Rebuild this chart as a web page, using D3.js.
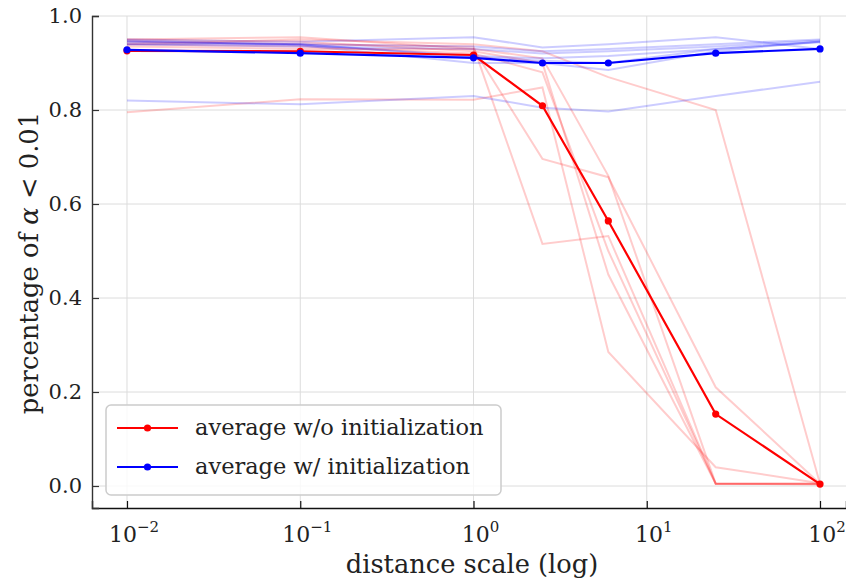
<!DOCTYPE html>
<html>
<head>
<meta charset="utf-8">
<script src="https://cdn.jsdelivr.net/npm/d3@7"></script>
<style>
  body { margin: 0; background: #fff; }
  svg text { font-family: "DejaVu Serif", "Liberation Serif", serif; fill: #222; }
</style>
</head>
<body>
<div id="chart"></div>
<script>
// x positions (distance scale)
const scales = [0.01, 0.1, 1, 2.5, 6, 25, 100]

// single runs without initialization
const runsNoInit = [
  [0.795, 0.823, 0.822, 0.848, 0.285, 0.04, 0.006],
  [0.95, 0.955, 0.93, 0.696, 0.657, 0.21, 0.005],
  [0.945, 0.94, 0.935, 0.515, 0.532, 0.005, 0.003],
  [0.94, 0.95, 0.94, 0.925, 0.87, 0.8, 0.005],
  [0.95, 0.945, 0.925, 0.9, 0.45, 0.005, 0.005],
  [0.94, 0.935, 0.92, 0.88, 0.5, 0.005, 0.005],
  [0.935, 0.93, 0.93, 0.91, 0.66, 0.005, 0.005]
]

// single runs with initialization
const runsInit = [
  [0.82, 0.812, 0.83, 0.805, 0.797, 0.83, 0.86],
  [0.95, 0.945, 0.955, 0.933, 0.94, 0.955, 0.93],
  [0.945, 0.94, 0.935, 0.925, 0.93, 0.94, 0.95],
  [0.94, 0.935, 0.93, 0.92, 0.925, 0.935, 0.948],
  [0.945, 0.94, 0.915, 0.91, 0.915, 0.93, 0.945],
  [0.948, 0.938, 0.9, 0.9, 0.885, 0.925, 0.946],
  [0.94, 0.94, 0.912, 0.905, 0.9, 0.93, 0.944]
]

const avgNoInit = [0.926, 0.925, 0.917, 0.809, 0.564, 0.153, 0.004]
const avgInit = [0.928, 0.921, 0.911, 0.900, 0.900, 0.921, 0.930]

const xTicks = [0.01, 0.1, 1, 10, 100]
const yTicks = [0, 0.2, 0.4, 0.6, 0.8, 1.0]
const legendLabels = ['average w/o initialization', 'average w/ initialization']

const width = 846, height = 580
const plotLeft = 92, plotTop = 16, plotBottom = 508, plotRight = 846

const svg = d3.select('#chart').append('svg')
  .attr('width', width)
  .attr('height', height)

const x = d3.scaleLog()
  .domain([Math.pow(10, -2.202), Math.pow(10, 2.15)])
  .range([plotLeft, plotRight])

const y = d3.scaleLinear()
  .domain([-0.0468, 1.0])
  .range([plotBottom, plotTop])

// grid
svg.append('g').selectAll('line')
  .data(xTicks)
  .enter().append('line')
  .attr('x1', d => x(d)).attr('x2', d => x(d))
  .attr('y1', plotTop).attr('y2', plotBottom)
  .attr('stroke', '#dcdcdc').attr('stroke-width', 1)

svg.append('g').selectAll('line')
  .data(yTicks)
  .enter().append('line')
  .attr('x1', plotLeft).attr('x2', plotRight)
  .attr('y1', d => y(d)).attr('y2', d => y(d))
  .attr('stroke', '#dcdcdc').attr('stroke-width', 1)

const line = d3.line()
  .x((d, i) => x(scales[i]))
  .y(d => y(d))

// faint runs
svg.append('g').selectAll('path')
  .data(runsNoInit)
  .enter().append('path')
  .attr('d', line)
  .attr('fill', 'none')
  .attr('stroke', '#ff0000')
  .attr('stroke-opacity', 0.2)
  .attr('stroke-width', 2)

svg.append('g').selectAll('path')
  .data(runsInit)
  .enter().append('path')
  .attr('d', line)
  .attr('fill', 'none')
  .attr('stroke', '#0000ff')
  .attr('stroke-opacity', 0.2)
  .attr('stroke-width', 2)

// averages
let drawAvg = (vals, color) => {
  svg.append('path')
    .attr('d', line(vals))
    .attr('fill', 'none')
    .attr('stroke', color)
    .attr('stroke-width', 2.2)
  svg.append('g').selectAll('circle')
    .data(vals)
    .enter().append('circle')
    .attr('cx', (d, i) => x(scales[i]))
    .attr('cy', d => y(d))
    .attr('r', 3.6)
    .attr('fill', color)
}
drawAvg(avgNoInit, '#ff0000')
drawAvg(avgInit, '#0000ff')

// axes
const xAxis = svg.append('g')
  .attr('transform', `translate(0,${plotBottom})`)
  .call(d3.axisBottom(x).tickValues(xTicks).tickSize(-7).tickPadding(10).tickFormat(() => ''))
xAxis.attr('font-family', null)
xAxis.select('.domain').attr('stroke', '#111').attr('stroke-width', 1.4)
xAxis.selectAll('.tick line').attr('stroke', '#111').attr('stroke-width', 1.2)
xAxis.selectAll('.tick text').each(function (d) {
  const t = d3.select(this)
    .attr('font-size', 22)
    .attr('dy', '1.1em')
    .attr('dx', '0.3em')
  t.append('tspan').text('10')
  t.append('tspan')
    .attr('font-size', 15)
    .attr('dy', '-0.65em')
    .text(d3.format('d')(Math.log10(d)).replace('-', '\u2212'))
})

const yAxis = svg.append('g')
  .attr('transform', `translate(${plotLeft},0)`)
  .call(d3.axisLeft(y).tickValues(yTicks).tickSize(-7).tickPadding(10).tickFormat(d3.format('.1f')))
yAxis.attr('font-family', null)
yAxis.select('.domain').attr('stroke', '#333').attr('stroke-width', 1.4)
yAxis.selectAll('.tick line').attr('stroke', '#333').attr('stroke-width', 1.2)
yAxis.selectAll('.tick text').attr('font-size', 21).attr('fill', '#222')

// axis titles
svg.append('text')
  .attr('x', 472).attr('y', 573)
  .attr('text-anchor', 'middle')
  .attr('font-size', 25.7)
  .text('distance scale (log)')

const yl = svg.append('text')
  .attr('transform', 'translate(38,263) rotate(-90)')
  .attr('text-anchor', 'middle')
  .attr('font-size', 25.8)
yl.append('tspan').text('percentage of ')
yl.append('tspan').attr('font-style', 'italic').text('α')
yl.append('tspan').text(' < 0.01')

// legend
const lg = svg.append('g')
lg.append('rect')
  .attr('x', 106).attr('y', 405)
  .attr('width', 395).attr('height', 90)
  .attr('rx', 5)
  .attr('fill', '#fff').attr('fill-opacity', 0.8)
  .attr('stroke', '#cccccc').attr('stroke-width', 1.5)

const legendColors = ['#ff0000', '#0000ff']
legendLabels.forEach((lab, i) => {
  const yy = 428 + i * 39
  lg.append('line')
    .attr('x1', 117).attr('x2', 178)
    .attr('y1', yy).attr('y2', yy)
    .attr('stroke', legendColors[i]).attr('stroke-width', 2.2)
  lg.append('circle')
    .attr('cx', 147.5).attr('cy', yy).attr('r', 3.6)
    .attr('fill', legendColors[i])
  lg.append('text')
    .attr('x', 195).attr('y', yy + 7)
    .attr('font-size', 22.5)
    .text(lab)
})
</script>
</body>
</html>
